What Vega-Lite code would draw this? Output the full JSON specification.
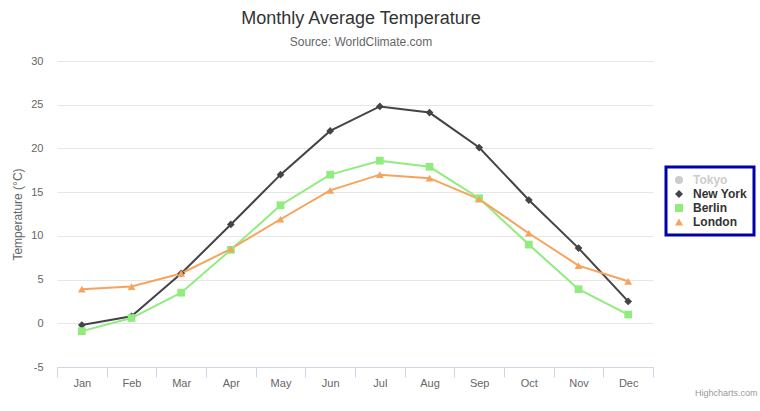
{
  "$schema": "https://vega.github.io/schema/vega-lite/v6.json",
  "width": 596,
  "height": 306,
  "autosize": "none",
  "padding": {"left": 57, "top": 61, "right": 107, "bottom": 44},
  "background": "white",
  "config": {"font": "Liberation Sans", "view": {"stroke": null}},
  "title": {
    "text": "Monthly Average Temperature",
    "subtitle": "Source: WorldClimate.com",
    "fontSize": 18,
    "font": "Liberation Sans",
    "fontWeight": "normal",
    "color": "#333333",
    "subtitleFont": "Liberation Sans",
    "subtitleFontSize": 12,
    "subtitleColor": "#666666",
    "anchor": "middle",
    "dx": 6,
    "offset": 7,
    "subtitlePadding": 9
  },
  "data": {
    "values": [
      {"month": "Jan", "city": "New York", "temp": -0.2},
      {"month": "Feb", "city": "New York", "temp": 0.8},
      {"month": "Mar", "city": "New York", "temp": 5.7},
      {"month": "Apr", "city": "New York", "temp": 11.3},
      {"month": "May", "city": "New York", "temp": 17.0},
      {"month": "Jun", "city": "New York", "temp": 22.0},
      {"month": "Jul", "city": "New York", "temp": 24.8},
      {"month": "Aug", "city": "New York", "temp": 24.1},
      {"month": "Sep", "city": "New York", "temp": 20.1},
      {"month": "Oct", "city": "New York", "temp": 14.1},
      {"month": "Nov", "city": "New York", "temp": 8.6},
      {"month": "Dec", "city": "New York", "temp": 2.5},
      {"month": "Jan", "city": "Berlin", "temp": -0.9},
      {"month": "Feb", "city": "Berlin", "temp": 0.6},
      {"month": "Mar", "city": "Berlin", "temp": 3.5},
      {"month": "Apr", "city": "Berlin", "temp": 8.4},
      {"month": "May", "city": "Berlin", "temp": 13.5},
      {"month": "Jun", "city": "Berlin", "temp": 17.0},
      {"month": "Jul", "city": "Berlin", "temp": 18.6},
      {"month": "Aug", "city": "Berlin", "temp": 17.9},
      {"month": "Sep", "city": "Berlin", "temp": 14.3},
      {"month": "Oct", "city": "Berlin", "temp": 9.0},
      {"month": "Nov", "city": "Berlin", "temp": 3.9},
      {"month": "Dec", "city": "Berlin", "temp": 1.0},
      {"month": "Jan", "city": "London", "temp": 3.9},
      {"month": "Feb", "city": "London", "temp": 4.2},
      {"month": "Mar", "city": "London", "temp": 5.7},
      {"month": "Apr", "city": "London", "temp": 8.5},
      {"month": "May", "city": "London", "temp": 11.9},
      {"month": "Jun", "city": "London", "temp": 15.2},
      {"month": "Jul", "city": "London", "temp": 17.0},
      {"month": "Aug", "city": "London", "temp": 16.6},
      {"month": "Sep", "city": "London", "temp": 14.2},
      {"month": "Oct", "city": "London", "temp": 10.3},
      {"month": "Nov", "city": "London", "temp": 6.6},
      {"month": "Dec", "city": "London", "temp": 4.8}
    ]
  },
  "transform": [{"calculate": "datum.city", "as": "series"}],
  "encoding": {
    "x": {
      "field": "month",
      "type": "ordinal",
      "sort": ["Jan", "Feb", "Mar", "Apr", "May", "Jun", "Jul", "Aug", "Sep", "Oct", "Nov", "Dec"],
      "scale": {"type": "band", "paddingInner": 0, "paddingOuter": 0},
      "axis": {
        "title": "Highcharts.com",
        "titleFontSize": 9,
        "titleColor": "#999999",
        "titleFontWeight": "normal",
        "titleAnchor": "end",
        "titleAlign": "right",
        "titleBaseline": "alphabetic",
        "titleX": 700,
        "titleY": 28,
        "labelAngle": 0,
        "labelColor": "#666666",
        "labelFontSize": 11,
        "labelPadding": 0,
        "domainColor": "#ccd6eb",
        "tickColor": "#ccd6eb",
        "tickSize": 10,
        "tickBand": "extent",
        "grid": false
      }
    },
    "y": {
      "field": "temp",
      "type": "quantitative",
      "scale": {"domain": [-5, 30], "nice": false, "zero": false},
      "axis": {
        "title": "Temperature (°C)",
        "titleColor": "#666666",
        "titleFontSize": 12,
        "titleFontWeight": "normal",
        "titlePadding": 6,
        "values": [-5, 0, 5, 10, 15, 20, 25, 30],
        "labelExpr": "replace(datum.label, '−', '-')",
        "labelColor": "#666666",
        "labelFontSize": 11,
        "labelPadding": 14,
        "domain": false,
        "ticks": false,
        "gridColor": "#e6e6e6"
      }
    }
  },
  "layer": [
    {
      "mark": {"type": "line", "strokeWidth": 2},
      "encoding": {
        "color": {
          "field": "city",
          "type": "nominal",
          "scale": {"domain": ["Tokyo", "New York", "Berlin", "London"], "range": ["#cccccc", "#434348", "#90ed7d", "#f7a35c"]},
          "legend": {
            "orient": "none",
            "legendX": 609,
            "legendY": 106,
            "title": null,
            "fillColor": "white",
            "strokeColor": "#0000aa",
            "padding": 7,
            "labelFont": "Liberation Sans",
            "labelFontWeight": "bold",
            "labelFontSize": 12,
            "labelColor": "#333333",
            "labelOffset": 8,
            "symbolSize": 64,
            "rowPadding": 2,
            "encode": {
              "legend": {
                "update": {"strokeWidth": {"value": 3}}
              },
              "symbols": {
                "update": {
                  "fill": {"signal": "datum.value === 'Tokyo' ? '#cccccc' : datum.value === 'New York' ? '#434348' : datum.value === 'Berlin' ? '#90ed7d' : '#f7a35c'"},
                  "stroke": {"signal": "datum.value === 'Tokyo' ? '#cccccc' : datum.value === 'New York' ? '#434348' : datum.value === 'Berlin' ? '#90ed7d' : '#f7a35c'"},
                  "strokeWidth": {"value": 0},
                  "opacity": {"value": 1}
                }
              },
              "labels": {
                "update": {
                  "fill": {"signal": "datum.value === 'Tokyo' ? '#cccccc' : '#333333'"}
                }
              }
            }
          }
        }
      }
    },
    {
      "mark": {"type": "point", "filled": true, "size": 60, "opacity": 1},
      "encoding": {
        "fill": {
          "field": "series",
          "type": "nominal",
          "scale": {"domain": ["Tokyo", "New York", "Berlin", "London"], "range": ["#cccccc", "#434348", "#90ed7d", "#f7a35c"]},
          "legend": null
        },
        "shape": {
          "field": "series",
          "type": "nominal",
          "scale": {"domain": ["Tokyo", "New York", "Berlin", "London"], "range": ["circle", "diamond", "square", "triangle-up"]},
          "legend": null
        }
      }
    }
  ]
}
